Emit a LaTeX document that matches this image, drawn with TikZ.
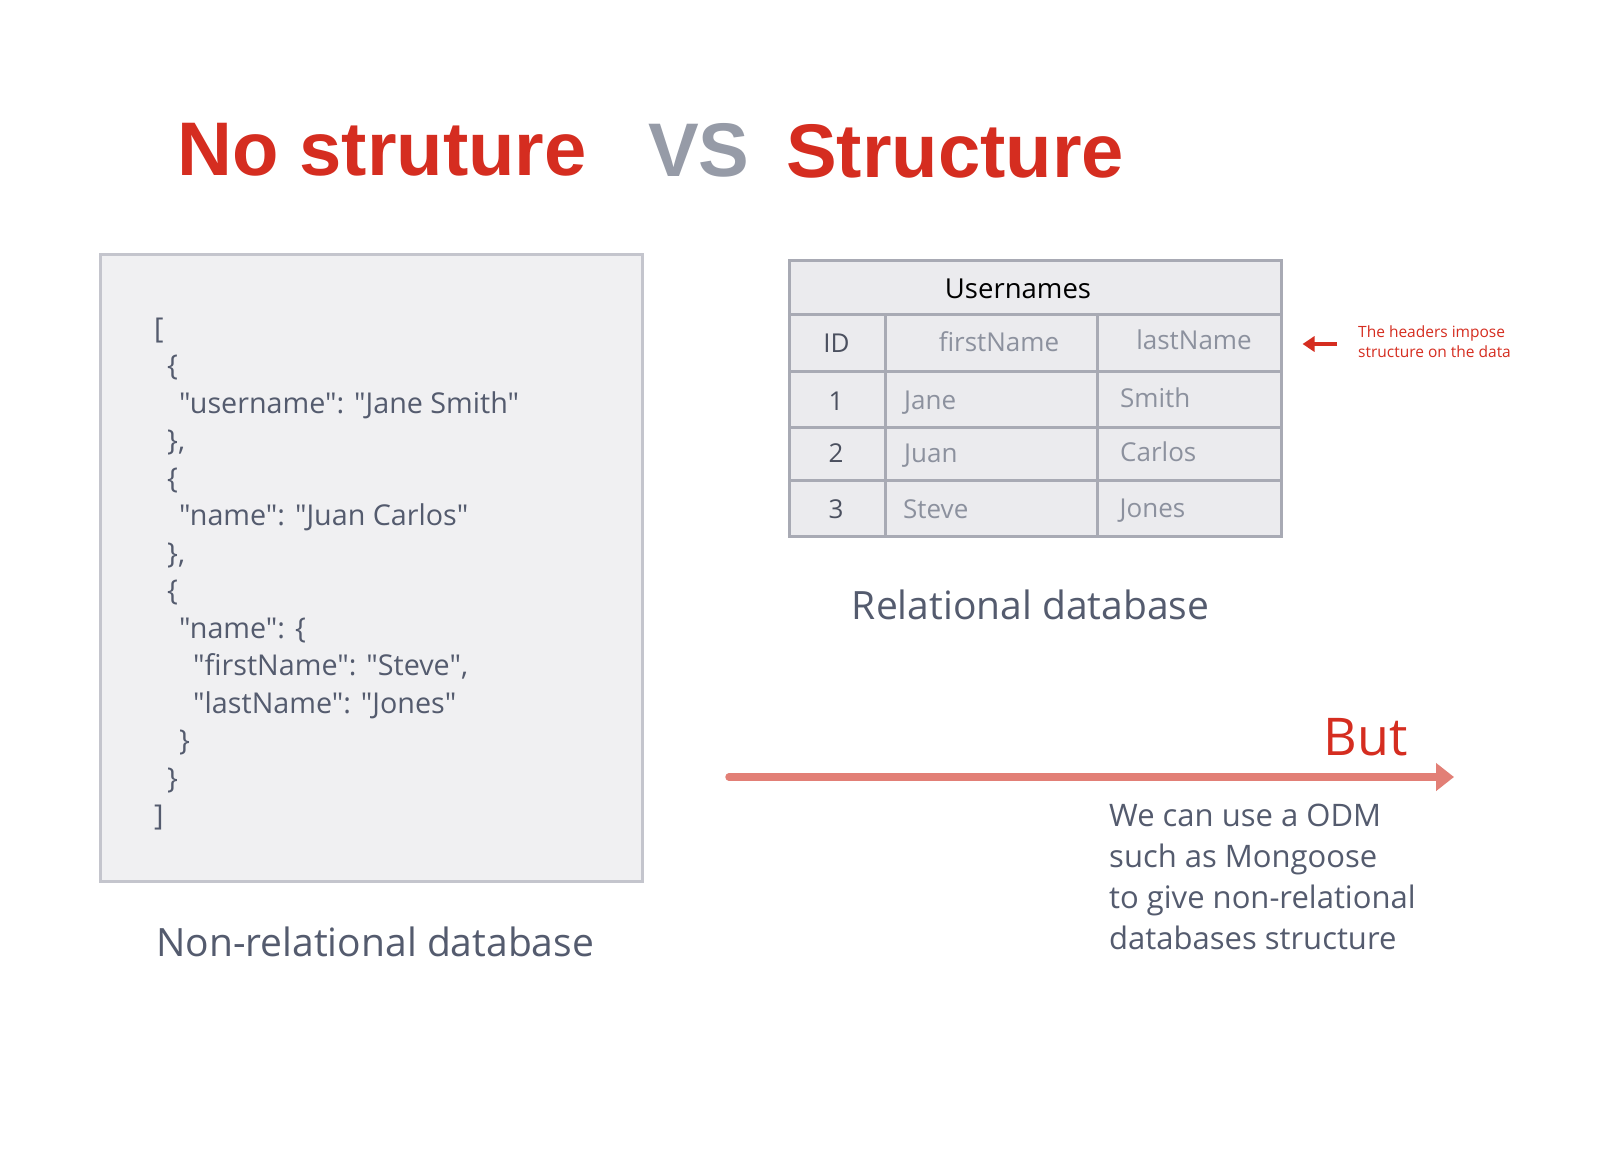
\documentclass[tikz,border=0pt]{standalone}
\usepackage{fontspec}
\setmainfont{Open Sans}
\newfontfamily\jsonfont{Open Sans}
\newfontfamily\titlefont{Liberation Sans}
\usetikzlibrary{arrows.meta}
\definecolor{titlered}{RGB}{213,45,32}
\definecolor{vsgray}{RGB}{150,155,167}
\definecolor{slate}{RGB}{84,91,110}
\definecolor{cellgray}{RGB}{140,145,158}
\definecolor{celldark}{RGB}{75,80,95}
\definecolor{boxfill}{RGB}{240,240,242}
\definecolor{boxline}{RGB}{196,197,205}
\definecolor{tabfill}{RGB}{235,235,238}
\definecolor{tabline}{RGB}{168,170,180}
\definecolor{salmon}{RGB}{226,127,118}
\tikzset{
  txt/.style={inner sep=0pt, anchor=base west},
  title/.style={txt, font=\titlefont\bfseries\fontsize{76}{80}\selectfont},
  json/.style={txt, text=slate, font=\jsonfont\fontsize{28.7}{34}\selectfont},
  label/.style={txt, text=slate, font=\fontsize{39}{46}\selectfont},
  cell/.style={inner sep=0pt, anchor=base, font=\fontsize{26}{30}\selectfont},
  cellw/.style={inner sep=0pt, anchor=base west, text=cellgray, font=\fontsize{26}{30}\selectfont},
  para/.style={txt, text=slate, font=\fontsize{31}{36}\selectfont},
  ann/.style={txt, text=titlered, font=\fontsize{15.5}{20}\selectfont},
}
\begin{document}
\begin{tikzpicture}[x=1pt,y=-1pt]
\useasboundingbox (0,0) rectangle (1616,1148);
\fill[white] (0,0) rectangle (1616,1148);

% titles
\node[title, text=titlered] (t1) at (177,175) {No struture};
\node[title, text=vsgray] (t2) at (648,176) {VS};
\node[title, text=titlered] (t3) at (786,177) {Structure};

% left box
\draw[fill=boxfill, draw=boxline, line width=3pt] (100,254) rectangle (642,881);
\node[json] (j0) at (154,338.4) {[};
\node[json] (j1) at (167,375.9) {\{};
\node[json] (j2) at (179,413.4) {"username": "Jane Smith"};
\node[json] (j3) at (167,450.9) {\},};
\node[json] (j4) at (167,488.4) {\{};
\node[json] (j5) at (179,525.9) {"name": "Juan Carlos"};
\node[json] (j6) at (167,563.4) {\},};
\node[json] (j7) at (167,600.9) {\{};
\node[json] (j8) at (179,638.4) {"name": \{};
\node[json] (j9) at (193,675.9) {"firstName": "Steve",};
\node[json] (j10) at (193,713.4) {"lastName": "Jones"};
\node[json] (j11) at (179,750.9) {\}};
\node[json] (j12) at (167,788.4) {\}};
\node[json] (j13) at (154,825.9) {]};
\node[label] (nrl) at (156,956.7) {Non-relational database};

% table
\draw[fill=tabfill, draw=tabline, line width=3pt] (789,260) rectangle (1281,536);
\draw[tabline, line width=3pt] (789,314) -- (1281,314)
  (789,371) -- (1281,371) (789,427) -- (1281,427) (789,480) -- (1281,480)
  (885,314) -- (885,536) (1097,314) -- (1097,536);
\node[cell, text=black, font=\fontsize{27.5}{30}\selectfont] (uh) at (1018,298) {Usernames};
\node[cell, text=celldark] (hid) at (836.5,352) {ID};
\node[cell, text=cellgray] (hfn) at (999,351) {firstName};
\node[cell, text=cellgray] (hln) at (1194,349.5) {lastName};
\node[cell, text=celldark] (r1) at (836,410) {1};
\node[cell, text=celldark] (r2) at (836,462) {2};
\node[cell, text=celldark] (r3) at (836,518) {3};
\node[cellw] (f1) at (904,409.5) {Jane};
\node[cellw] (f2) at (904,462) {Juan};
\node[cellw] (f3) at (903,518) {Steve};
\node[cellw] (l1) at (1120,407.5) {Smith};
\node[cellw] (l2) at (1120,461) {Carlos};
\node[cellw] (l3) at (1119.5,517.5) {Jones};
\node[label] (rl) at (851.7,619.3) {Relational database};

% annotation
\node[ann] (a1) at (1358,337.7) {The headers impose};
\node[ann] (a2) at (1358,357.7) {structure on the data};
\coordinate (annS) at (1337,344);
\coordinate (annE) at (1302.5,344);
\draw[titlered, line width=3.3pt, -{Triangle[length=12pt,width=15pt]}] (annS) -- (annE);

% big arrow
\coordinate (bS) at (729,777);
\coordinate (bE) at (1454,777);
\draw[salmon, line width=7.5pt, line cap=round, -{Triangle[length=18pt,width=27pt]}] (bS) -- (bE);
\node[txt, text=titlered, font=\fontsize{52}{60}\selectfont] (but) at (1323.5,755) {But};

\node[para] (p1) at (1109,826) {We can use a ODM};
\node[para] (p2) at (1109,867) {such as Mongoose};
\node[para] (p3) at (1109,908) {to give non-relational};
\node[para] (p4) at (1109,949) {databases structure};
\end{tikzpicture}
\end{document}
